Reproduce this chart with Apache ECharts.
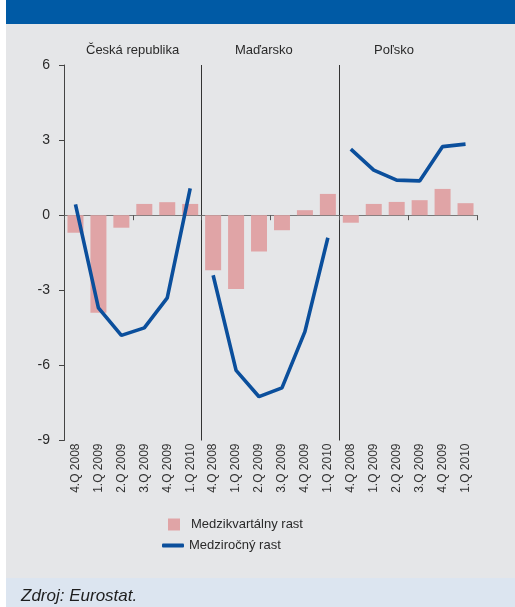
<!DOCTYPE html>
<html>
<head>
<meta charset="utf-8">
<script src="https://cdn.jsdelivr.net/npm/echarts@6/dist/echarts.min.js"></script>
<style>
  html, body { margin: 0; padding: 0; background: #fff; }
  #main { width: 515px; height: 607px; }
</style>
</head>
<body>
<div id="main"></div>
<script>
var quarters = ['4.Q 2008', '1.Q 2009', '2.Q 2009', '3.Q 2009', '4.Q 2009', '1.Q 2010'];
var countries = ['Česká republika', 'Maďarsko', 'Poľsko'];

// medzikvartálny rast (%)
var qoqCZ = [-0.7, -3.9, -0.5, 0.45, 0.52, 0.45];
var qoqHU = [-2.2, -2.95, -1.45, -0.6, 0.2, 0.85];
var qoqPL = [-0.3, 0.45, 0.53, 0.6, 1.05, 0.48];

// medziročný rast (%)
var yoyCZ = [0.43, -3.7, -4.8, -4.5, -3.3, 1.07];
var yoyHU = [-2.4, -6.2, -7.25, -6.9, -4.65, -0.9];
var yoyPL = [2.64, 1.8, 1.4, 1.37, 2.74, 2.84];

var yTicks = [-9, -6, -3, 0, 3, 6];

var cats = quarters.concat(quarters, quarters);
var qoq = qoqCZ.concat(qoqHU, qoqPL);

function pad(arr, idx) {
  var out = [];
  for (var i = 0; i < 3; i++) {
    for (var j = 0; j < arr.length; j++) out.push(i === idx ? arr[j] : null);
  }
  return out;
}

var font = 'Liberation Sans Narrow, Liberation Sans, Arial, sans-serif';
var txt = '#2a2a2a';
var barName = 'Medzikvartálny rast';
var lineName = 'Medziročný rast';

function lineSeries(arr, idx) {
  return {
    name: lineName,
    type: 'line',
    data: pad(arr, idx),
    symbol: 'none',
    connectNulls: false,
    lineStyle: { color: '#0b4f9c', width: 3.6 },
    itemStyle: { color: '#0b4f9c' },
    z: 3
  };
}

var chart = echarts.init(document.getElementById('main'));
chart.setOption({
  backgroundColor: '#ffffff',
  animation: false,
  textStyle: { fontFamily: font },
  graphic: [
    { type: 'rect', z: -10, shape: { x: 6, y: 0, width: 509, height: 24 }, style: { fill: '#005aa5' } },
    { type: 'rect', z: -10, shape: { x: 6, y: 24, width: 509, height: 554 }, style: { fill: '#e5e6e8' } },
    { type: 'rect', z: -10, shape: { x: 6, y: 578, width: 509, height: 29 }, style: { fill: '#dce5f0' } },
    { type: 'text', left: 21, top: 588, style: { text: 'Zdroj: Eurostat.', fill: '#1e1e1e', font: 'italic 17px ' + font } }
  ],
  title: [
    { text: countries[0], left: 86, top: 44, padding: 0, textStyle: { fontSize: 13, fontWeight: 'normal', color: txt, fontFamily: font } },
    { text: countries[1], left: 235, top: 44, padding: 0, textStyle: { fontSize: 13, fontWeight: 'normal', color: txt, fontFamily: font } },
    { text: countries[2], left: 374, top: 44, padding: 0, textStyle: { fontSize: 13, fontWeight: 'normal', color: txt, fontFamily: font } }
  ],
  legend: [
    {
      data: [barName], left: 168, top: 518, padding: 0,
      itemWidth: 12, itemHeight: 12, icon: 'rect',
      textStyle: { fontSize: 13, color: txt, fontFamily: font, padding: [0, 0, 0, 6] }
    },
    {
      data: [lineName], left: 162, top: 539, padding: 0,
      itemWidth: 22, itemHeight: 4, icon: 'roundRect',
      textStyle: { fontSize: 13, color: txt, fontFamily: font }
    }
  ],
  grid: { left: 64, right: 38, top: 65, bottom: 166.5 },
  xAxis: [
    {
      type: 'category', data: cats, position: 'bottom',
      axisLine: { onZero: true, lineStyle: { color: '#777', width: 1 } },
      axisTick: { show: true, length: 5, lineStyle: { color: '#555' } },
      axisLabel: { show: false },
      splitLine: { show: false }
    },
    {
      type: 'category', data: cats, position: 'bottom',
      axisLine: { show: false, onZero: false },
      axisTick: { show: false },
      axisLabel: { rotate: 90, margin: 3, fontSize: 12, color: '#333', fontFamily: font, interval: 0 },
      splitLine: {
        show: true,
        showMaxLine: false,
        interval: function (i) { return i === 6 || i === 12; },
        lineStyle: { color: '#333', width: 1 }
      }
    }
  ],
  yAxis: {
    type: 'value', min: yTicks[0], max: yTicks[yTicks.length - 1], interval: 3,
    axisLine: { show: true, onZero: false, lineStyle: { color: '#444' } },
    axisTick: { show: true, length: 5, lineStyle: { color: '#444' } },
    axisLabel: { fontSize: 14, color: txt, margin: 14, fontFamily: font },
    splitLine: { show: false }
  },
  series: [
    {
      name: barName, type: 'bar', data: qoq, barWidth: 16,
      itemStyle: { color: '#e0a4a6' }, z: 2
    },
    lineSeries(yoyCZ, 0),
    lineSeries(yoyHU, 1),
    lineSeries(yoyPL, 2)
  ]
});
</script>
</body>
</html>
